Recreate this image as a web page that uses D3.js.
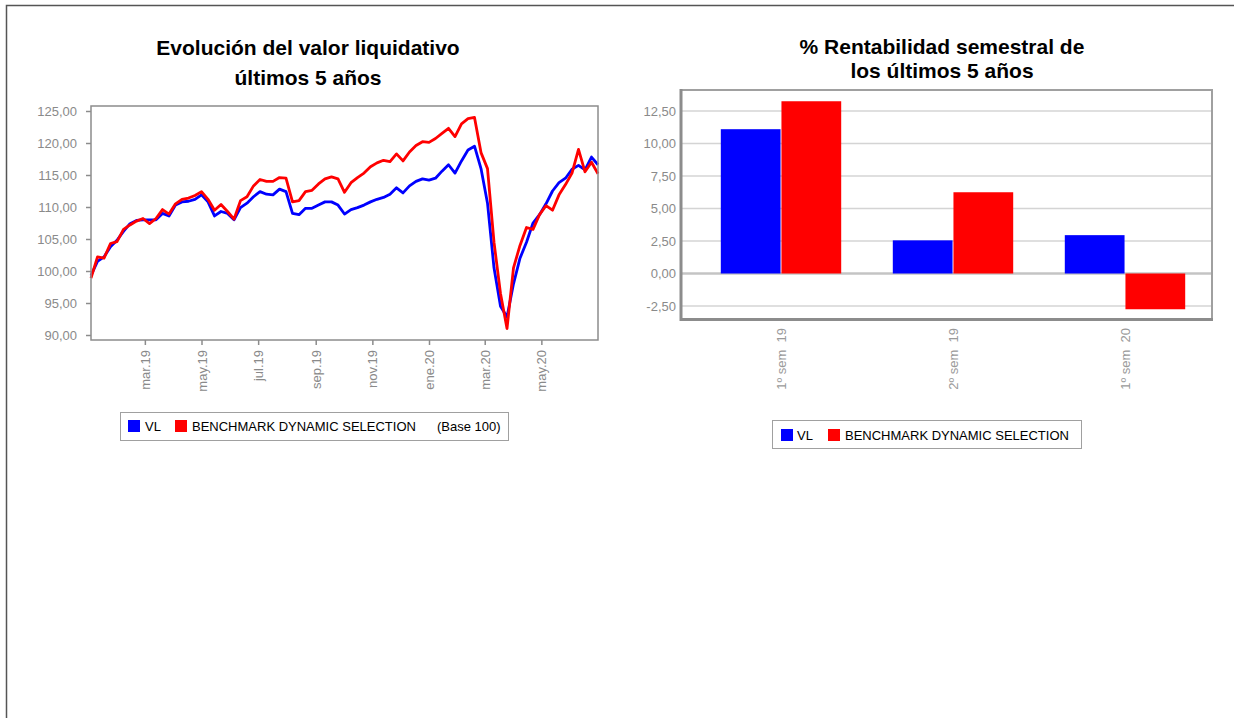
<!DOCTYPE html>
<html>
<head>
<meta charset="utf-8">
<title>Evolución del valor liquidativo</title>
<script src="https://cdnjs.cloudflare.com/ajax/libs/d3/7.8.5/d3.min.js"></script>
<style>
body	{ margin:0; background:#fff; }
svg	{ display:block; font-family: Arial, "Liberation Sans", sans-serif; }
</style>
</head>
<body>
<svg id="page" width="1234" height="718"></svg>
<script>
// weekly closes, base 100, starting on the first week of 2019
var	firstWeek	= "2019-01-02",
	vlValues	= [99.3,101.5,102.2,103.8,104.8,106.2,107.4,107.9,108.0,108.0,
			   108.0,109.0,108.6,110.3,110.8,110.9,111.2,111.9,110.8,108.6,
			   109.3,109.0,108.0,109.9,110.6,111.6,112.4,112.0,111.9,112.8,
			   112.4,109.0,108.8,109.8,109.8,110.3,110.8,110.8,110.3,108.9,
			   109.6,109.9,110.3,110.8,111.2,111.5,112.0,113.0,112.2,113.3,
			   114.0,114.4,114.2,114.5,115.6,116.6,115.3,117.2,118.9,119.5,
			   116.0,110.6,100.5,94.5,92.8,98.0,102.0,104.5,107.5,108.8,
			   110.5,112.5,113.8,114.5,115.9,116.5,115.8,117.8,116.6],
	benchValues	= [98.9,102.2,102.0,104.3,104.6,106.5,107.2,107.8,108.2,107.4,
			   108.2,109.6,108.9,110.5,111.2,111.4,111.8,112.4,111.2,109.5,
			   110.4,109.3,108.1,111.0,111.6,113.3,114.3,114.0,114.0,114.6,
			   114.5,110.8,111.0,112.4,112.6,113.6,114.4,114.7,114.4,112.3,
			   113.8,114.6,115.3,116.3,116.9,117.3,117.1,118.3,117.2,118.6,
			   119.6,120.2,120.1,120.7,121.5,122.3,121.0,123.0,123.8,124.0,
			   118.5,116.0,104.5,96.5,91.0,100.5,104.0,106.8,106.5,108.8,
			   110.2,109.5,111.9,113.5,115.3,119.0,115.5,117.0,115.2],
	dateTicks	= ["2019-03-01","2019-05-01","2019-07-01","2019-09-01","2019-11-01","2020-01-01","2020-03-01","2020-05-01"],
	dateLabels	= ["mar.19","may.19","jul.19","sep.19","nov.19","ene.20","mar.20","may.20"],
	navTicks	= [90,95,100,105,110,115,120,125],
	semesters	= ["1º sem  19","2º sem  19","1º sem  20"],
	semVL		= [11.10, 2.55, 2.95],
	semBench	= [13.25, 6.25, -2.75],
	semTicks	= [-2.5,0,2.5,5,7.5,10,12.5];

var	BLUE	= "#0000ff",
	RED	= "#ff0000",
	esLocale= d3.formatLocale({decimal:",", thousands:".", grouping:[3], currency:["","€"], minus:"-"}),
	fmt	= esLocale.format(".2f"),
	parse	= d3.timeParse("%Y-%m-%d"),
	svg	= d3.select("#page");

// page frame
svg.append("path").attr("d","M6.5,718V5.5H1234").attr("fill","none")
	.attr("stroke","#555").attr("stroke-width",1.5);

function title(g, cx, lines, ys) {
	lines.forEach(function(t,i) {
		g.append("text").attr("x",cx).attr("y",ys[i]).attr("text-anchor","middle")
			.style("font-size","21px").style("font-weight","bold").text(t);
	});
}

function navChart() {
	var	g	= svg.append("g"),
		start	= parse(firstWeek),
		dates	= vlValues.map(function(d,i) { return d3.timeDay.offset(start, 7*i); }),
		x	= d3.scaleTime().domain(d3.extent(dates)).range([91,598]),
		y	= d3.scaleLinear().domain([90,125]).range([335,111]),
		line	= function(vals) {
				return d3.line().x(function(d,i){ return x(dates[i]); }).y(function(d){ return y(d); })(vals);
			};

	title(g, 308, ["Evolución del valor liquidativo","últimos 5 años"], [55,85]);

	var yAxis = g.append("g").attr("transform","translate(91,0)")
		.call(d3.axisLeft(y).tickValues(navTicks).tickSize(5).tickPadding(9).tickFormat(fmt));
	var xAxis = g.append("g").attr("transform","translate(0,340)")
		.call(d3.axisBottom(x).tickValues(dateTicks.map(parse)).tickSize(5)
			.tickFormat(function(d,i){ return dateLabels[i]; }));
	[yAxis, xAxis].forEach(function(a) {
		a.select(".domain").remove();
		a.selectAll("line").attr("stroke","#8c8c8c").attr("stroke-width",1.5);
		a.selectAll("text").attr("fill","#8a8a8a").style("font-size","13px").style("font-family",null);
	});
	xAxis.selectAll("text").attr("y",0).attr("x",-10).attr("dy","0.35em")
		.attr("transform","rotate(-90)").style("text-anchor","end");

	g.append("path").attr("d", line(vlValues)).attr("fill","none").attr("stroke",BLUE)
		.attr("stroke-width",2.8).attr("stroke-linejoin","round");
	g.append("path").attr("d", line(benchValues)).attr("fill","none").attr("stroke",RED)
		.attr("stroke-width",2.8).attr("stroke-linejoin","round");

	g.append("rect").attr("x",91).attr("y",106).attr("width",507).attr("height",234)
		.attr("fill","none").attr("stroke","#8c8c8c").attr("stroke-width",1.5);

	// legend
	var lg = g.append("g").style("font-size","13px");
	lg.append("rect").attr("x",120.5).attr("y",412.5).attr("width",388).attr("height",28)
		.attr("fill","#fff").attr("stroke","#a0a0a0");
	lg.append("rect").attr("x",128).attr("y",420).attr("width",12).attr("height",12).attr("fill",BLUE);
	lg.append("text").attr("x",145).attr("y",431).text("VL");
	lg.append("rect").attr("x",175).attr("y",420).attr("width",12).attr("height",12).attr("fill",RED);
	lg.append("text").attr("x",192).attr("y",431).text("BENCHMARK DYNAMIC SELECTION");
	lg.append("text").attr("x",437).attr("y",431).text("(Base 100)");
}

function semChart() {
	var	g	= svg.append("g"),
		xb	= d3.scaleBand().domain(semesters).range([695,1211]).paddingInner(0.3).paddingOuter(0.15),
		xs	= d3.scaleBand().domain([0,1]).range([0, xb.bandwidth()]).paddingInner(0.015),
		y	= d3.scaleLinear().domain([-2.5,12.5]).range([306,111]),
		rows	= semesters.map(function(s,i) { return {sem:s, vals:[semVL[i], semBench[i]]}; });

	title(g, 942, ["% Rentabilidad semestral de","los últimos 5 años"], [54,78]);

	g.selectAll(".grid").data(semTicks).enter().append("line").attr("class","grid")
		.attr("x1",681).attr("x2",1212)
		.attr("y1",function(d){ return y(d); }).attr("y2",function(d){ return y(d); })
		.attr("stroke",function(d){ return d===0 ? "#c4c4c4" : "#d4d4d4"; })
		.attr("stroke-width",function(d){ return d===0 ? 2.5 : 1.5; });
	g.selectAll(".ylab").data(semTicks).enter().append("text").attr("class","ylab")
		.attr("x",676).attr("y",function(d){ return y(d); }).attr("dy","0.35em")
		.attr("text-anchor","end").attr("fill","#8a8a8a").style("font-size","13px").text(fmt);

	var groups = g.selectAll(".sem").data(rows).enter().append("g").attr("class","sem")
		.attr("transform",function(d){ return "translate("+xb(d.sem)+",0)"; });
	groups.selectAll("rect").data(function(d){ return d.vals; }).enter().append("rect")
		.attr("x",function(d,i){ return xs(i); }).attr("width",xs.bandwidth())
		.attr("y",function(d){ return y(Math.max(0,d)); })
		.attr("height",function(d){ return Math.abs(y(d)-y(0)); })
		.attr("fill",function(d,i){ return i===0 ? BLUE : RED; });

	g.selectAll(".xlab").data(semesters).enter().append("text").attr("class","xlab")
		.attr("transform",function(d){ return "translate("+(xb(d)+xb.bandwidth()/2)+",328) rotate(-90)"; })
		.attr("dy","0.35em").attr("text-anchor","end").attr("fill","#9a9a9a")
		.style("font-size","13px").style("white-space","pre").text(function(d){ return d; });

	g.append("rect").attr("x",681).attr("y",90).attr("width",531).attr("height",229)
		.attr("fill","none").attr("stroke","#a0a0a0").attr("stroke-width",2);
	g.append("path").attr("d","M681,89V319.5H1213").attr("fill","none")
		.attr("stroke","#8c8c8c").attr("stroke-width",3);

	var lg = g.append("g").style("font-size","13px");
	lg.append("rect").attr("x",772.5).attr("y",420.5).attr("width",309).attr("height",28)
		.attr("fill","#fff").attr("stroke","#a0a0a0");
	lg.append("rect").attr("x",781).attr("y",429).attr("width",12).attr("height",12).attr("fill",BLUE);
	lg.append("text").attr("x",797).attr("y",440).text("VL");
	lg.append("rect").attr("x",828).attr("y",429).attr("width",12).attr("height",12).attr("fill",RED);
	lg.append("text").attr("x",845).attr("y",440).text("BENCHMARK DYNAMIC SELECTION");
}

navChart();
semChart();
</script>
</body>
</html>
